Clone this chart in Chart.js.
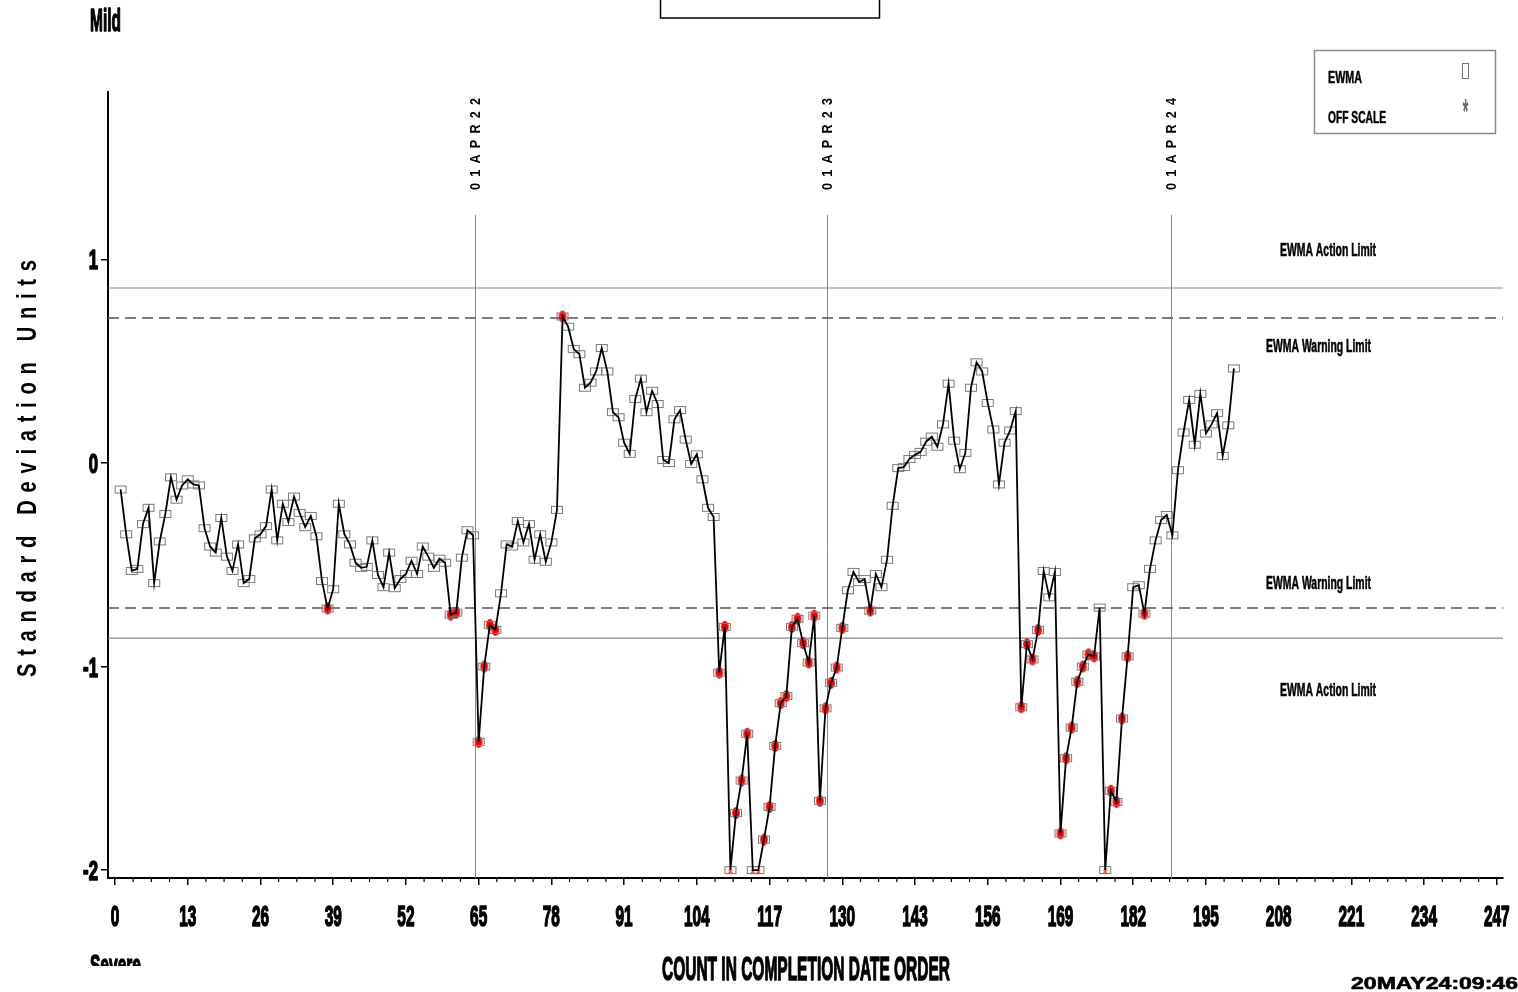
<!DOCTYPE html>
<html>
<head>
<meta charset="utf-8">
<title>EWMA chart</title>
<script src="https://cdn.jsdelivr.net/npm/chart.js@4.4.1/dist/chart.umd.min.js"></script>
<style>
  html, body { margin: 0; padding: 0; background: #fff; overflow: hidden; }
  #wrap { width: 1518px; height: 992px; position: relative; }
</style>
</head>
<body>
<div id="wrap"><canvas id="chart-ewma"></canvas></div>
<script>
// EWMA values in completion-date order (count 1..200), standard deviation units
const ewma = [
  -0.13, -0.35, -0.53, -0.52, -0.30, -0.22, -0.59, -0.385, -0.25, -0.07,
  -0.18, -0.11, -0.08, -0.105, -0.11, -0.32, -0.41, -0.44, -0.27, -0.46,
  -0.53, -0.40, -0.59, -0.57, -0.37, -0.35, -0.31, -0.13, -0.38, -0.20,
  -0.29, -0.165, -0.245, -0.315, -0.26, -0.36, -0.58, -0.715, -0.62, -0.20,
  -0.35, -0.40, -0.49, -0.515, -0.51, -0.38, -0.55, -0.61, -0.44, -0.615,
  -0.57, -0.545, -0.48, -0.545, -0.41, -0.46, -0.515, -0.47, -0.49, -0.745,
  -0.735, -0.465, -0.33, -0.355, -1.37, -1.00, -0.795, -0.82, -0.64, -0.40,
  -0.41, -0.285, -0.39, -0.30, -0.475, -0.35, -0.485, -0.39, -0.23, 0.72,
  0.67, 0.56, 0.535, 0.37, 0.395, 0.45, 0.565, 0.45, 0.25, 0.225,
  0.10, 0.045, 0.315, 0.415, 0.25, 0.355, 0.29, 0.015, 0.0, 0.215,
  0.26, 0.115, -0.005, 0.043, -0.08, -0.22, -0.265, -1.03, -0.805, -2.0,
  -1.72, -1.56, -1.33, -2.0, -2.0, -1.85, -1.69, -1.39, -1.18, -1.145,
  -0.805, -0.765, -0.885, -0.98, -0.75, -1.66, -1.205, -1.08, -1.005, -0.81,
  -0.625, -0.535, -0.585, -0.57, -0.725, -0.545, -0.61, -0.475, -0.21, -0.025,
  -0.02, 0.02, 0.04, 0.055, 0.105, 0.13, 0.08, 0.19, 0.39, 0.11,
  -0.03, 0.05, 0.37, 0.495, 0.45, 0.295, 0.165, -0.105, 0.10, 0.16,
  0.255, -1.20, -0.89, -0.965, -0.82, -0.53, -0.66, -0.535, -1.82, -1.45,
  -1.30, -1.075, -1.00, -0.94, -0.95, -0.71, -2.0, -1.61, -1.665, -1.255,
  -0.95, -0.61, -0.60, -0.74, -0.52, -0.38, -0.28, -0.255, -0.355, -0.035,
  0.15, 0.31, 0.09, 0.34, 0.145, 0.19, 0.245, 0.035, 0.185, 0.465
];
const counts = ewma.map((_, i) => i + 1);

// counts whose value fell below the axis floor (drawn at -2 with the off-scale mark)
const offScale = [110, 114, 115, 177];

const actionLimit = 0.86;
const warningLimit = 0.712;

const dateCounts = [64.3, 127.3, 188.7];
const dateLabels = ['01APR22', '01APR23', '01APR24'];

const xTickLabels = ['0', '13', '26', '39', '52', '65', '78', '91', '104', '117', '130', '143', '156', '169', '182', '195', '208', '221', '234', '247'];
const yTickLabels = ['-2', '-1', '0', '1'];

const X_MIN = -1.25, X_MAX = 248.1;
const Y_MIN = -2.039, Y_MAX = 1.823;

const FONT = '"Liberation Sans", Arial, "DejaVu Sans", sans-serif';

// point markers: open grey box, red blob beyond warning limit, red star when off scale
function makeMarker(kind) {
    const c = document.createElement('canvas');
    c.width = 14;
    c.height = 14;
    const g = c.getContext('2d');
    if (kind === 'red') {
        g.fillStyle = '#ff0000';
        g.beginPath();
        g.ellipse(7, 7, 3.8, 6, 0, 0, Math.PI * 2);
        g.fill();
    }
    g.strokeStyle = '#7a7a7a';
    g.lineWidth = 1;
    g.strokeRect(1.5, 3.5, 11, 7);
    if (kind === 'off') {
        g.strokeStyle = '#ff2020';
        g.lineWidth = 1;
        g.beginPath();
        g.moveTo(7, 6); g.lineTo(7, 10.5);
        g.moveTo(5, 7); g.lineTo(9, 10);
        g.moveTo(9, 7); g.lineTo(5, 10);
        g.stroke();
    }
    return c;
}
const boxImg = makeMarker('box');
const redImg = makeMarker('red');
const offImg = makeMarker('off');

// text helpers (the SAS output uses a very condensed heavy face)
function squeezeText(ctx, text, x, y, size, sx, align, heavy, color) {
    ctx.save();
    ctx.font = 'bold ' + size + 'px ' + FONT;
    ctx.fillStyle = color || '#000';
    ctx.strokeStyle = color || '#000';
    ctx.textAlign = align || 'left';
    ctx.textBaseline = 'alphabetic';
    ctx.translate(x, y);
    ctx.scale(sx, 1);
    ctx.fillText(text, 0, 0);
    if (heavy) {
        ctx.lineWidth = heavy;
        ctx.lineJoin = 'round';
        ctx.strokeText(text, 0, 0);
    }
    ctx.restore();
}

function fitText(ctx, text, x, y, size, width, align, heavy, color) {
    ctx.save();
    ctx.font = 'bold ' + size + 'px ' + FONT;
    const w = ctx.measureText(text).width;
    ctx.restore();
    squeezeText(ctx, text, x, y, size, width / w, align, heavy, color);
}

// rotated text reading bottom to top, letters spread from yStart up to yEnd
function spacedVertical(ctx, text, cx, yStart, yEnd, size, squeeze) {
    ctx.save();
    ctx.font = 'bold ' + size + 'px ' + FONT;
    ctx.fillStyle = '#000';
    ctx.textAlign = 'left';
    ctx.textBaseline = 'alphabetic';
    const chars = Array.from(text);
    const widths = chars.map(ch => ctx.measureText(ch).width * squeeze);
    const total = widths.reduce((a, b) => a + b, 0);
    const gap = (yStart - yEnd - total) / (chars.length - 1);
    const cap = size * 0.716;
    ctx.translate(cx, yStart);
    ctx.rotate(-Math.PI / 2);
    let pos = 0;
    chars.forEach((ch, i) => {
        ctx.save();
        ctx.translate(pos, cap / 2);
        ctx.scale(squeeze, 1);
        ctx.fillText(ch, 0, 0);
        ctx.restore();
        pos += widths[i] + gap;
    });
    ctx.restore();
}

const decor = {
    id: 'sasDecor',
    beforeDatasetsDraw(chart) {
        const ctx = chart.ctx;
        const xs = chart.scales.x;
        const area = chart.chartArea;
        ctx.save();
        ctx.strokeStyle = '#8a8a8a';
        ctx.lineWidth = 1;
        dateCounts.forEach(d => {
            const px = Math.round(xs.getPixelForValue(d)) + 0.5;
            ctx.beginPath();
            ctx.moveTo(px, 215);
            ctx.lineTo(px, area.bottom);
            ctx.stroke();
        });
        ctx.restore();
    },
    afterDraw(chart) {
        const ctx = chart.ctx;
        const xs = chart.scales.x;
        const ys = chart.scales.y;
        const area = chart.chartArea;

        // minor ticks on the count axis
        ctx.save();
        ctx.strokeStyle = '#000';
        ctx.lineWidth = 1.2;
        const majors = xs.ticks.map(t => t.value);
        for (let k = 0; k < majors.length - 1; k++) {
            for (let m = 1; m < 4; m++) {
                const px = xs.getPixelForValue(majors[k] + m * 3.25);
                ctx.beginPath();
                ctx.moveTo(px, area.bottom);
                ctx.lineTo(px, area.bottom + 4);
                ctx.stroke();
            }
        }
        ctx.restore();

        // tick labels
        xTickLabels.forEach(lbl => {
            squeezeText(ctx, lbl, xs.getPixelForValue(Number(lbl)), 926, 29, 0.53, 'center', 1.6);
        });
        yTickLabels.forEach(lbl => {
            squeezeText(ctx, lbl, 98, ys.getPixelForValue(Number(lbl)) + 10, 27, 0.62, 'right', 1.6);
        });

        // axis titles
        fitText(ctx, 'COUNT IN COMPLETION DATE ORDER', 806, 980, 33, 288, 'center', 1.4);
        spacedVertical(ctx, 'Standard Deviation Units', 26, 677, 260, 28, 0.72);

        // corner labels
        fitText(ctx, 'Mild', 90, 31, 32, 31, 'left', 1.4);
        ctx.save();
        ctx.beginPath();
        ctx.rect(0, 940, 300, 26);
        ctx.clip();
        fitText(ctx, 'Severe', 90, 975, 30, 51, 'left', 1.4);
        ctx.restore();
        fitText(ctx, '20MAY24:09:46', 1351, 989, 17, 167, 'left', 0.6);

        // title box (cut off at the top of the page)
        ctx.save();
        ctx.strokeStyle = '#000';
        ctx.lineWidth = 1.5;
        ctx.strokeRect(660.5, -5, 219, 23);
        ctx.restore();

        // limit captions
        fitText(ctx, 'EWMA Action Limit', 1280, 256, 19, 96, 'left', 0.6);
        fitText(ctx, 'EWMA Warning Limit', 1266, 352, 19, 105, 'left', 0.6);
        fitText(ctx, 'EWMA Warning Limit', 1266, 589, 19, 105, 'left', 0.6);
        fitText(ctx, 'EWMA Action Limit', 1280, 696, 19, 96, 'left', 0.6);

        // date reference labels
        dateCounts.forEach((d, i) => {
            spacedVertical(ctx, dateLabels[i], xs.getPixelForValue(d), 190, 98, 14, 0.9);
        });

        // legend
        ctx.save();
        ctx.strokeStyle = '#8a8a8a';
        ctx.lineWidth = 1.5;
        ctx.strokeRect(1314.5, 50.5, 181, 83);
        ctx.lineWidth = 1;
        ctx.strokeStyle = '#777';
        ctx.strokeRect(1462.5, 63.5, 6, 15);
        ctx.restore();
        fitText(ctx, 'EWMA', 1328, 83, 16, 34, 'left', 0.5);
        fitText(ctx, 'OFF SCALE', 1328, 123, 16, 58, 'left', 0.5);
        ctx.save();
        ctx.font = 'bold 18px ' + FONT;
        ctx.fillStyle = '#666';
        ctx.textAlign = 'center';
        ctx.textBaseline = 'alphabetic';
        ctx.translate(1465.5, 110);
        ctx.scale(0.8, 1.9);
        ctx.fillText('*', 0, 7);
        ctx.restore();
    }
};

const points = ewma.map((v, i) => ({ x: counts[i], y: v }));
const span = v => [{ x: X_MIN, y: v }, { x: X_MAX, y: v }];

const limitLine = (v, dashed) => ({
    data: span(v),
    borderColor: dashed ? '#555' : '#8a8a8a',
    borderWidth: dashed ? 1.5 : 1.2,
    borderDash: dashed ? [11, 6] : [],
    pointRadius: 0,
    fill: false,
});

new Chart(document.getElementById('chart-ewma').getContext('2d'), {
    type: 'line',
    data: {
        datasets: [
            {
                label: 'EWMA',
                data: points,
                borderColor: '#000',
                borderWidth: 1.8,
                pointRadius: 0,
                tension: 0,
                fill: false,
                clip: false,
            },
            {
                label: 'markers',
                data: points,
                showLine: false,
                pointRadius: 5,
                pointStyle: c => {
                    const n = counts[c.dataIndex];
                    if (offScale.includes(n)) return offImg;
                    return Math.abs(ewma[c.dataIndex]) > warningLimit ? redImg : boxImg;
                },
                clip: false,
            },
            limitLine(warningLimit, true),
            limitLine(-warningLimit, true),
            limitLine(actionLimit, false),
            limitLine(-actionLimit, false),
        ]
    },
    options: {
        responsive: true,
        maintainAspectRatio: false,
        animation: false,
        events: [],
        layout: { padding: { left: 0, right: 15, top: 92, bottom: 0 } },
        plugins: {
            legend: { display: false },
            tooltip: { enabled: false },
        },
        scales: {
            x: {
                type: 'linear',
                min: X_MIN,
                max: X_MAX,
                afterFit: s => { s.height = 114; },
                ticks: { stepSize: 13, includeBounds: false, display: false },
                grid: { drawOnChartArea: false, drawTicks: true, tickLength: 7, color: '#000', lineWidth: 1.5 },
                border: { display: true, color: '#000', width: 2 },
            },
            y: {
                min: Y_MIN,
                max: Y_MAX,
                afterFit: s => { s.width = 108; },
                ticks: { stepSize: 1, includeBounds: false, display: false },
                grid: { drawOnChartArea: false, drawTicks: true, tickLength: 7, color: '#000', lineWidth: 1.5 },
                border: { display: true, color: '#000', width: 2 },
            }
        }
    },
    plugins: [decor]
});
</script>
</body>
</html>
